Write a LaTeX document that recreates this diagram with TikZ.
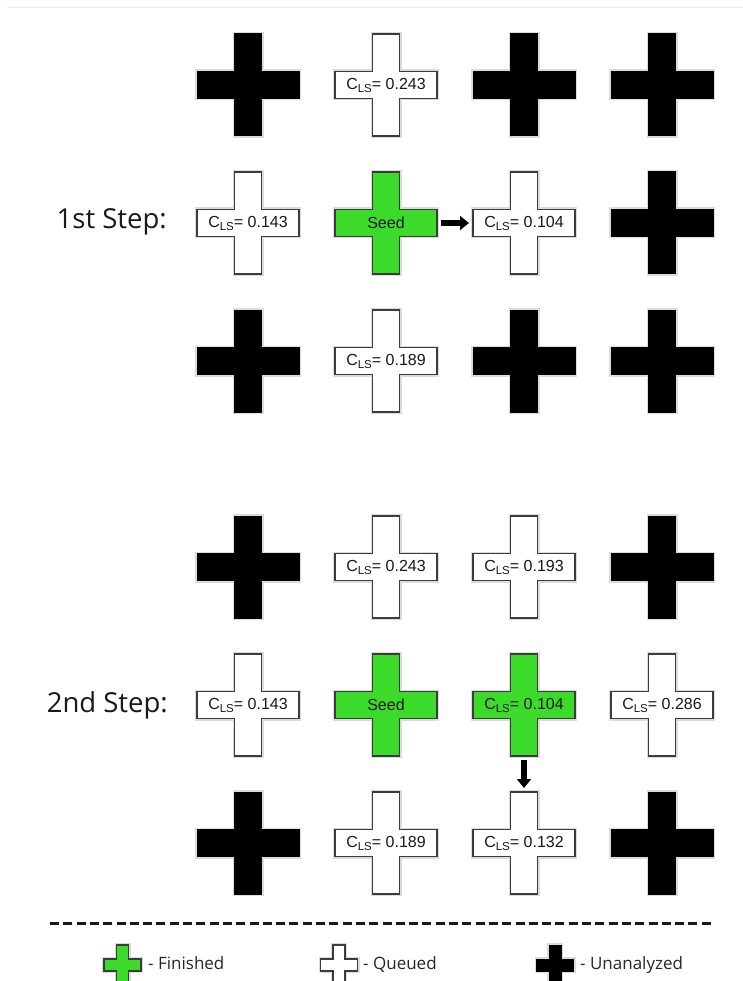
\documentclass[tikz,border=0pt]{standalone}
\usepackage{fontspec}
\setmainfont{Open Sans}
\newfontfamily\arialfont{Liberation Sans}
\usetikzlibrary{arrows.meta}
\usetikzlibrary{calc}

\definecolor{seedgreen}{RGB}{60,218,42}
\definecolor{rimgray}{RGB}{60,60,60}

\tikzset{
  arm h/.style={minimum width=102pt,minimum height=27pt,inner sep=0,outer sep=0,draw=none},
  arm v/.style={minimum width=27pt,minimum height=102pt,inner sep=0,outer sep=0,draw=none},
  key h/.style={minimum width=37pt,minimum height=12pt,inner sep=0,outer sep=0,draw=none},
  key v/.style={minimum width=12pt,minimum height=40pt,inner sep=0,outer sep=0,draw=none},
  halo/.style={preaction={draw=black!14,line width=4}},
  unanalyzed/.style={halo,fill=black,draw=black,line width=1},
  queued/.style={halo,fill=white,draw=rimgray,line width=1.4},
  finished/.style={halo,fill=seedgreen,draw=rimgray,line width=1.4},
  cell text/.style={font=\arialfont\fontsize{16}{18}\selectfont,inner sep=0,text=black!90},
  steptitle/.style={font=\fontsize{27.5}{32}\selectfont,inner sep=0,text=black!90},
  key text/.style={font=\fontsize{17}{20}\selectfont,inner sep=0,text=black!85,anchor=base west},
  move/.style={-{Triangle[length=9pt,width=14pt]},line width=5.5,shorten <=4pt,shorten >=4pt}
}

% name, x, y, look, text
\newcommand{\crossat}[5]{%
  \node[arm h] (#1) at (#2,#3) {};
  \node[arm v] (#1v) at (#2,#3) {};
  \draw[#4] (#1v.north west) -- (#1v.north east) |- (#1.north east) -- (#1.south east) -| (#1v.south east) -- (#1v.south west) |- (#1.south west) -- (#1.north west) -| (#1v.north west) -- cycle;
  \node[cell text] (#1t) at (#1.center) {#5};
}
\newcommand{\keycross}[4]{%
  \node[key h] (#1) at (#2,#3) {};
  \node[key v] (#1v) at (#2,#3) {};
  \draw[#4] (#1v.north west) -- (#1v.north east) |- (#1.north east) -- (#1.south east) -| (#1v.south east) -- (#1v.south west) |- (#1.south west) -- (#1.north west) -| (#1v.north west) -- cycle;
}
\newcommand{\cls}[1]{C\raisebox{-0.35ex}{\fontsize{11.5}{12}\selectfont LS}= #1}

\begin{document}
\begin{tikzpicture}[x=1pt,y=-1pt]
\useasboundingbox (0,0) rectangle (743,981);
\draw[black!7,line width=1] (7,8) -- (743,8);

\node[steptitle,anchor=base east] (title1) at (167,229) {1st Step:};
\crossat{sa11}{248}{85}{unanalyzed}{}
\crossat{sa12}{386}{85}{queued}{\cls{0.243}}
\crossat{sa13}{524}{85}{unanalyzed}{}
\crossat{sa14}{662}{85}{unanalyzed}{}
\crossat{sa21}{248}{223}{queued}{\cls{0.143}}
\crossat{sa22}{386}{223}{finished}{Seed}
\crossat{sa23}{524}{223}{queued}{\cls{0.104}}
\crossat{sa24}{662}{223}{unanalyzed}{}
\crossat{sa31}{248}{361}{unanalyzed}{}
\crossat{sa32}{386}{361}{queued}{\cls{0.189}}
\crossat{sa33}{524}{361}{unanalyzed}{}
\crossat{sa34}{662}{361}{unanalyzed}{}
\draw[move] (sa22.east) -- (sa23.west);

\node[steptitle,anchor=base east] (title2) at (168,712) {2nd Step:};
\crossat{sb11}{248}{567}{unanalyzed}{}
\crossat{sb12}{386}{567}{queued}{\cls{0.243}}
\crossat{sb13}{524}{567}{queued}{\cls{0.193}}
\crossat{sb14}{662}{567}{unanalyzed}{}
\crossat{sb21}{248}{705}{queued}{\cls{0.143}}
\crossat{sb22}{386}{705}{finished}{Seed}
\crossat{sb23}{524}{705}{finished}{\cls{0.104}}
\crossat{sb24}{662}{705}{queued}{\cls{0.286}}
\crossat{sb31}{248}{843}{unanalyzed}{}
\crossat{sb32}{386}{843}{queued}{\cls{0.189}}
\crossat{sb33}{524}{843}{queued}{\cls{0.132}}
\crossat{sb34}{662}{843}{unanalyzed}{}
\draw[move] (sb23v.south) -- (sb33v.north);

\draw[black!90,line width=3,dash pattern=on 9pt off 4.3pt] (50,923) -- (712,923);

\keycross{kfin}{122.5}{965}{finished}
\node[key text] (kfintext) at (148,969) {- Finished};
\keycross{kque}{339}{965}{queued}
\node[key text] (kquetext) at (363,969) {- Queued};
\keycross{kuna}{555}{965}{unanalyzed}
\node[key text] (kunatext) at (580,969) {- Unanalyzed};
\end{tikzpicture}
\end{document}
